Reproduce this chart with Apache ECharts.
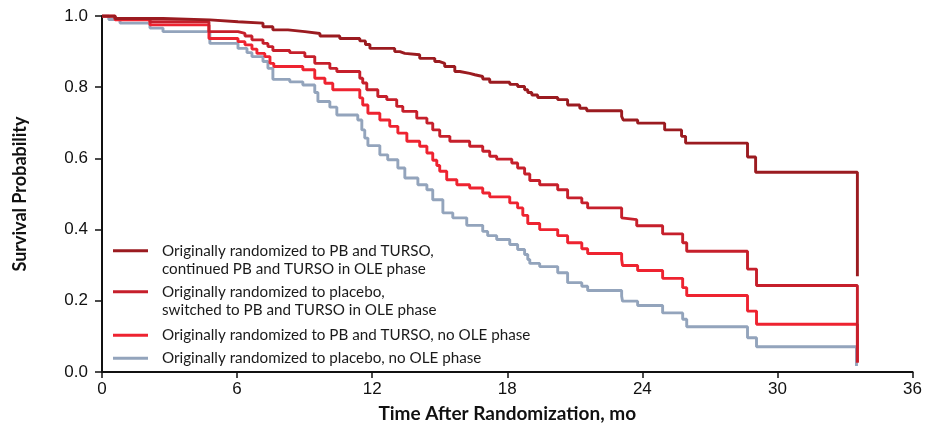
<!DOCTYPE html>
<html>
<head>
<meta charset="utf-8">
<script src="https://cdn.jsdelivr.net/npm/echarts@6/dist/echarts.min.js"></script>
<style>
  html, body { margin: 0; padding: 0; background: #fff; }
  #main { width: 925px; height: 428px; }
</style>
</head>
<body>
<div id="main"></div>
<script>
// tick values
var xTicks = [0, 6, 12, 18, 24, 30, 36];
var yTicks = [0, 0.2, 0.4, 0.6, 0.8, 1.0];

// series names (legend text)
var names = [
  'Originally randomized to PB and TURSO,\ncontinued PB and TURSO in OLE phase',
  'Originally randomized to placebo,\nswitched to PB and TURSO in OLE phase',
  'Originally randomized to PB and TURSO, no OLE phase',
  'Originally randomized to placebo, no OLE phase'
];

// step points: [month, survival]
var tursoOle = [
  [0, 1], [0.58, 0.993], [2.71, 0.989], [4.79, 0.984], [6.04, 0.98], [7.15, 0.97],
  [7.59, 0.961], [8.26, 0.956], [9.01, 0.951], [9.68, 0.944], [10.56, 0.937],
  [11.45, 0.93], [11.7, 0.92], [11.9, 0.909], [13.0, 0.9], [13.23, 0.895],
  [13.45, 0.891], [14.11, 0.881], [14.78, 0.872], [15.0, 0.867], [15.22, 0.858],
  [15.67, 0.844], [15.89, 0.839], [16.33, 0.835], [16.56, 0.83], [16.91, 0.823],
  [17.22, 0.814], [18.11, 0.808], [18.46, 0.802], [18.77, 0.793], [18.91, 0.785],
  [19.09, 0.778], [19.35, 0.771], [20.24, 0.765], [20.68, 0.75], [21.22, 0.741],
  [21.53, 0.734], [23.08, 0.718], [23.15, 0.708], [23.79, 0.699], [24.99, 0.68],
  [25.74, 0.662], [25.92, 0.643], [28.67, 0.604], [29.03, 0.561], [33.55, 0.269]
];
var placeboOle = [
  [0, 1], [0.58, 0.993], [2.13, 0.984], [4.75, 0.956], [6.04, 0.951], [6.35, 0.944],
  [6.66, 0.933], [7.15, 0.923], [7.37, 0.914], [7.59, 0.903], [8.34, 0.897],
  [9.01, 0.886], [9.45, 0.867], [10.12, 0.853], [10.43, 0.844], [11.45, 0.825],
  [11.58, 0.812], [11.76, 0.793], [12.25, 0.774], [12.65, 0.765], [13.09, 0.746],
  [13.36, 0.732], [13.98, 0.713], [14.43, 0.699], [14.69, 0.68], [15.0, 0.662],
  [15.45, 0.648], [16.33, 0.634], [16.91, 0.62], [17.22, 0.606], [17.53, 0.598],
  [18.2, 0.587], [18.46, 0.573], [18.77, 0.556], [19.0, 0.538], [19.44, 0.526],
  [20.24, 0.512], [20.68, 0.489], [21.31, 0.475], [21.57, 0.461], [23.08, 0.433],
  [23.12, 0.428], [23.75, 0.411], [24.9, 0.388], [25.79, 0.363], [25.97, 0.339],
  [28.67, 0.289], [29.07, 0.243], [33.55, 0.027]
];
var tursoNoOle = [
  [0, 1], [0.58, 0.989], [2.13, 0.975], [4.75, 0.937], [6.04, 0.928], [6.35, 0.919],
  [6.66, 0.907], [6.88, 0.895], [7.23, 0.886], [7.46, 0.867], [7.63, 0.858],
  [8.92, 0.849], [9.45, 0.825], [9.9, 0.811], [10.25, 0.793], [11.45, 0.77],
  [11.58, 0.75], [11.81, 0.727], [12.34, 0.708], [12.78, 0.69], [13.14, 0.671],
  [13.54, 0.648], [14.11, 0.634], [14.43, 0.615], [14.69, 0.595], [14.87, 0.58],
  [15.0, 0.564], [15.31, 0.54], [15.76, 0.526], [16.33, 0.517], [16.91, 0.503],
  [17.22, 0.492], [18.11, 0.475], [18.46, 0.461], [18.69, 0.44], [18.91, 0.417],
  [19.44, 0.4], [20.24, 0.383], [20.68, 0.363], [21.31, 0.346], [21.57, 0.333],
  [23.08, 0.316], [23.12, 0.299], [23.79, 0.285], [24.9, 0.263], [25.79, 0.237],
  [25.97, 0.215], [28.67, 0.171], [29.07, 0.134], [33.55, 0.027]
];
var placeboNoOle = [
  [0, 1], [0.3, 0.99], [0.8, 0.98], [2.13, 0.966], [2.71, 0.956], [4.79, 0.923],
  [6.04, 0.909], [6.44, 0.897], [6.66, 0.886], [7.15, 0.872], [7.37, 0.853],
  [7.59, 0.822], [8.34, 0.815], [8.92, 0.806], [9.45, 0.785], [9.59, 0.76],
  [10.12, 0.744], [10.43, 0.722], [11.36, 0.708], [11.54, 0.68], [11.67, 0.657],
  [11.81, 0.636], [12.34, 0.61], [12.69, 0.596], [13.14, 0.573], [13.45, 0.545],
  [14.03, 0.526], [14.43, 0.512], [14.69, 0.484], [15.14, 0.447], [15.58, 0.433],
  [16.2, 0.412], [16.91, 0.395], [17.13, 0.383], [17.53, 0.372], [18.11, 0.358],
  [18.46, 0.344], [18.77, 0.33], [18.91, 0.316], [19.0, 0.305], [19.44, 0.296],
  [20.24, 0.279], [20.68, 0.251], [21.31, 0.241], [21.57, 0.229], [23.08, 0.213],
  [23.12, 0.199], [23.79, 0.187], [24.9, 0.166], [25.79, 0.148], [25.97, 0.127],
  [28.67, 0.096], [29.07, 0.071], [33.51, 0.017]
];

var colors = ['#9b1b20', '#c61f2b', '#ee2330', '#93a4bc'];
var curves = [tursoOle, placeboOle, tursoNoOle, placeboNoOle];

// where each legend row sits
var legendTops = [223, 264, 326, 349];
var legendFont = 'Lato';

var myChart = echarts.init(document.getElementById('main'));

var series = [];
var legends = [];
for (var i = curves.length - 1; i >= 0; i--) {
  series.push({
    name: names[i],
    type: 'line',
    step: 'end',
    showSymbol: false,
    symbol: 'none',
    data: curves[i],
    lineStyle: { color: colors[i], width: 2.9 },
    itemStyle: { color: colors[i] },
    z: 2 + (curves.length - i)
  });
}
for (var j = 0; j < names.length; j++) {
  legends.push({
    data: [{ name: names[j], icon: 'rect' }],
    left: 113,
    top: legendTops[j],
    padding: 0,
    itemWidth: 35,
    itemHeight: 3,
    selectedMode: false,
    // blank first line keeps the icon level with the first text line
    formatter: function (n) { return n.indexOf('\n') >= 0 ? ' \n' + n : n; },
    textStyle: {
      fontFamily: legendFont,
      fontSize: 15.2,
      color: '#1a1a1a',
      lineHeight: 18.5,
      padding: [0, 0, 0, 9]
    }
  });
}

var option = {
  animation: false,
  backgroundColor: '#fff',
  legend: legends,
  grid: { left: 102, right: 12, top: 16, bottom: 55 },
  xAxis: {
    type: 'value',
    min: xTicks[0],
    max: xTicks[xTicks.length - 1],
    interval: 6,
    name: 'Time After Randomization, mo',
    nameLocation: 'middle',
    nameGap: 32,
    nameTextStyle: { fontFamily: legendFont, fontWeight: 'bold', fontSize: 19, color: '#111' },
    axisLine: { lineStyle: { color: '#111', width: 2 } },
    axisTick: { length: 6, lineStyle: { color: '#111', width: 1.5 } },
    axisLabel: { fontFamily: 'Liberation Sans', fontSize: 17, color: '#111', margin: 9 },
    splitLine: { show: false }
  },
  yAxis: {
    type: 'value',
    min: yTicks[0],
    max: yTicks[yTicks.length - 1],
    interval: 0.2,
    name: 'Survival Probability',
    nameLocation: 'middle',
    nameGap: 73,
    nameTextStyle: { fontFamily: legendFont, fontWeight: 'bold', fontSize: 18, color: '#111' },
    axisLine: { show: true, lineStyle: { color: '#111', width: 2 } },
    axisTick: { show: true, length: 7, lineStyle: { color: '#111', width: 1.5 } },
    axisLabel: {
      fontFamily: 'Liberation Sans', fontSize: 17, color: '#111', margin: 14,
      formatter: function (v) { return v.toFixed(1); }
    },
    splitLine: { show: false }
  },
  series: series
};

myChart.setOption(option);
</script>
</body>
</html>
